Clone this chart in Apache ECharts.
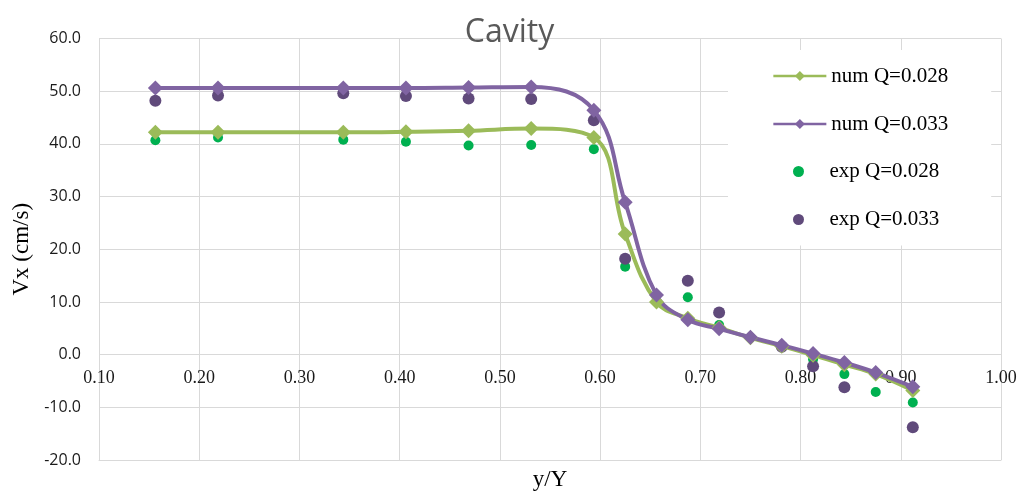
<!DOCTYPE html>
<html>
<head>
<meta charset="utf-8">
<script src="https://cdn.jsdelivr.net/npm/echarts@6/dist/echarts.min.js"></script>
<style>
html,body{margin:0;padding:0;background:#fff;}
#chart{width:1019px;height:491px;}
</style>
</head>
<body>
<div id="chart"></div>
<script>
// ---- data ----
const xNum = [0.15625, 0.21875, 0.34375, 0.40625, 0.46875, 0.53125, 0.59375, 0.625, 0.65625, 0.6875, 0.71875, 0.75, 0.78125, 0.8125, 0.84375, 0.875, 0.912];
const numQ028 = [42.2, 42.2, 42.2, 42.3, 42.5, 42.9, 41.2, 22.9, 10.0, 6.9, 5.1, 3.2, 1.6, -0.1, -1.9, -3.7, -6.8];
const numQ033 = [50.6, 50.6, 50.6, 50.6, 50.7, 50.8, 46.4, 28.9, 11.3, 6.6, 4.9, 3.3, 1.8, 0.2, -1.5, -3.4, -6.1];

const xExp028 = [0.15625, 0.21875, 0.34375, 0.40625, 0.46875, 0.53125, 0.59375, 0.625, 0.6875, 0.71875, 0.8125, 0.84375, 0.875, 0.912];
const expQ028 = [40.7, 41.2, 40.8, 40.4, 39.7, 39.8, 39.0, 16.7, 10.9, 5.6, -0.9, -3.7, -7.1, -9.1];

const xExp033 = [0.15625, 0.21875, 0.34375, 0.40625, 0.46875, 0.53125, 0.59375, 0.625, 0.6875, 0.71875, 0.78125, 0.8125, 0.84375, 0.912];
const expQ033 = [48.2, 49.2, 49.6, 49.1, 48.6, 48.5, 44.5, 18.2, 14.0, 8.0, 1.5, -2.2, -6.2, -13.8];

const seriesNames = ['num Q=0.028', 'num Q=0.033', 'exp Q=0.028', 'exp Q=0.033'];
const titleText = 'Cavity';
const xName = 'y/Y';
const yName = 'Vx (cm/s)';

function pairs(xs, ys) { return xs.map((x, i) => [x, ys[i]]); }

const chart = echarts.init(document.getElementById('chart'), null, {renderer: 'canvas'});
const serif = 'Liberation Serif';
const legendText = {fontFamily: serif, fontSize: 21, color: '#000', lineHeight: 21};

chart.setOption({
  backgroundColor: '#fff',
  animation: false,
  title: {
    text: titleText, left: 'center', top: 12,
    textStyle: {fontFamily: 'Open Sans', fontSize: 32, fontWeight: 'normal', color: '#595959'}
  },
  grid: {left: 99, right: 18, top: 38.5, bottom: 31, containLabel: false, outerBoundsMode: 'none'},
  legend: [
    {
      data: seriesNames.slice(0, 2), orient: 'vertical', left: 728, top: 50,
      padding: [15.5, 43, 111, 44], itemGap: 27, itemWidth: 53, itemHeight: 12.5,
      lineStyle: {width: 2.7},
      backgroundColor: '#fff', textStyle: legendText, z: 4
    },
    {
      data: seriesNames.slice(2), orient: 'vertical', left: 793, top: 161,
      padding: 0, itemGap: 27, itemWidth: 52, itemHeight: 11,
      textStyle: legendText, z: 6
    }
  ],
  xAxis: {
    type: 'value', min: 0.1, max: 1.0, interval: 0.1, position: 'bottom',
    name: xName, nameLocation: 'middle', nameGap: 8,
    nameTextStyle: {fontFamily: serif, fontSize: 23, color: '#000'},
    axisLine: {show: true, onZero: false, lineStyle: {color: '#d9d9d9', width: 1}},
    axisTick: {show: false},
    axisLabel: {formatter: v => v.toFixed(2), fontFamily: serif, fontSize: 18, color: '#1a1a1a', margin: -91},
    splitLine: {show: true, lineStyle: {color: '#d9d9d9', width: 1}}
  },
  yAxis: {
    type: 'value', min: -20, max: 60, interval: 10,
    name: yName, nameLocation: 'middle', nameGap: 65, nameRotate: 90,
    nameTextStyle: {fontFamily: serif, fontSize: 23, color: '#000'},
    axisLine: {show: false},
    axisTick: {show: false},
    axisLabel: {formatter: v => v.toFixed(1), fontFamily: 'Open Sans', fontSize: 16, color: '#1a1a1a', margin: 18},
    splitLine: {show: true, lineStyle: {color: '#d9d9d9', width: 1}}
  },
  series: [
    {
      name: seriesNames[0], type: 'line', data: pairs(xNum, numQ028), smooth: 0.4,
      symbol: 'diamond', symbolSize: 15,
      lineStyle: {color: '#9BBB59', width: 4}, itemStyle: {color: '#9BBB59'}
    },
    {
      name: seriesNames[1], type: 'line', data: pairs(xNum, numQ033), smooth: 0.4,
      symbol: 'diamond', symbolSize: 15,
      lineStyle: {color: '#8064A2', width: 4}, itemStyle: {color: '#8064A2'}
    },
    {
      name: seriesNames[2], type: 'scatter', data: pairs(xExp028, expQ028),
      symbol: 'circle', symbolSize: 10, itemStyle: {color: '#00B050', opacity: 1}
    },
    {
      name: seriesNames[3], type: 'scatter', data: pairs(xExp033, expQ033),
      symbol: 'circle', symbolSize: 12, itemStyle: {color: '#604A7B', opacity: 1}
    }
  ]
});
</script>
</body>
</html>
